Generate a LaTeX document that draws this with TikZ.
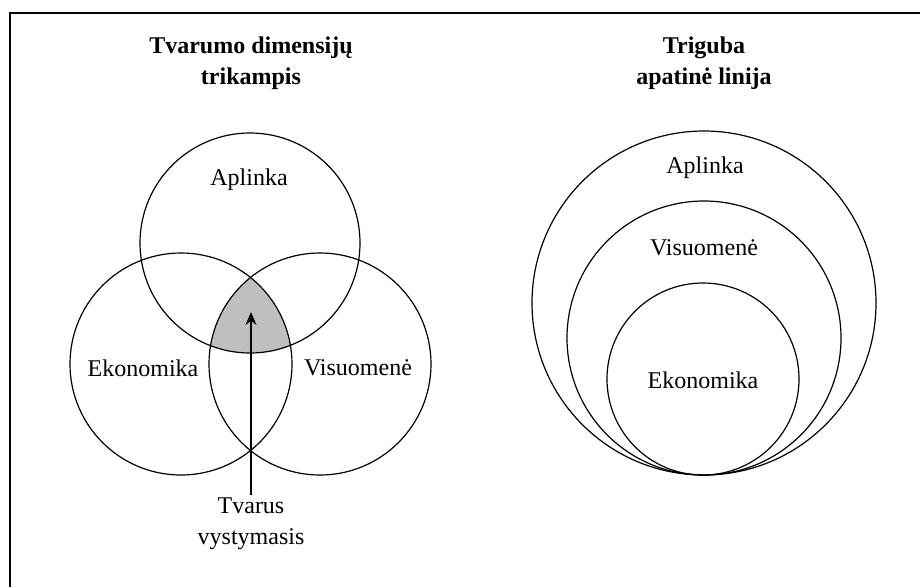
\documentclass[tikz,border=0pt]{standalone}
\usepackage{fontspec}
\setmainfont{Liberation Serif}
\usetikzlibrary{arrows.meta}
\begin{document}
\begin{tikzpicture}[x=1pt,y=-1pt,
  ring/.style={draw=black,line width=1.2pt},
  lbl/.style={font=\fontsize{24}{29}\selectfont,inner sep=0pt},
  ttl/.style={font=\fontsize{24}{31}\selectfont\bfseries,align=center,inner sep=0pt},
  conn/.style={line width=1.4pt,-{Stealth[length=13pt,width=11pt]}}]
\useasboundingbox (0,0) rectangle (920,587);
% frame (top and left edges visible)
\draw[line width=2pt] (920,13) -- (10,13) -- (10,587);
% titles
\node[ttl] (t1) at (251,63) {Tvarumo dimensijų\\trikampis};
\node[ttl] (t2) at (704,63) {Triguba\\apatinė linija};
% shaded intersection
\begin{scope}
  \clip (250,243) circle[radius=110];
  \clip (181,364) circle[radius=111];
  \fill[black!25] (320,364) circle[radius=111];
\end{scope}
% venn circles
\draw[ring] (250,243) circle[radius=110];
\draw[ring] (181,364) circle[radius=111];
\draw[ring] (320,364) circle[radius=111];
\node[lbl] (ap1) at (249,180) {Aplinka};
\node[lbl] (ek1) at (143,368) {Ekonomika};
\node[lbl] (vi1) at (358,368) {Visuomenė};
\node[lbl,align=center,anchor=north,inner sep=3pt,font=\fontsize{24}{31}\selectfont] (tv) at (251,495) {Tvarus\\vystymasis};
\coordinate (tip) at (251,312);
\draw[conn] (tv.north) -- (tip);
% nested circles
\draw[ring] (704,303) circle[radius=172];
\draw[ring] (704,338) circle[radius=137];
\draw[ring] (703,379) circle[radius=96];
\node[lbl] (ap2) at (705,168) {Aplinka};
\node[lbl] (vi2) at (704,248) {Visuomenė};
\node[lbl] (ek2) at (703,380) {Ekonomika};
\end{tikzpicture}
\end{document}
